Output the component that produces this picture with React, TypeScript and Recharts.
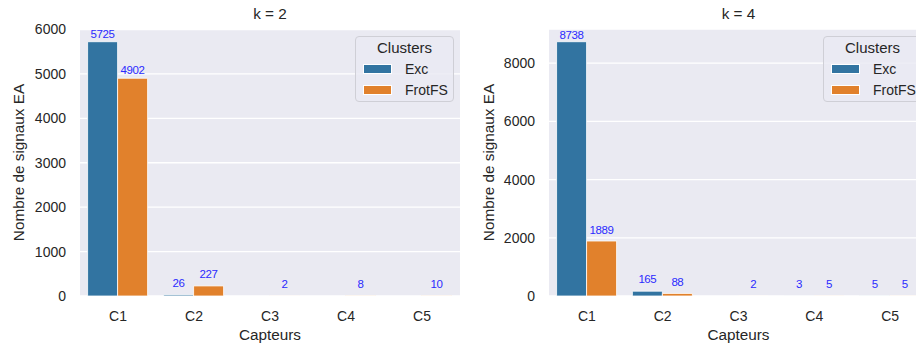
import { BarChart, Bar, XAxis, YAxis, CartesianGrid, LabelList } from 'recharts';

const categories = ['C1', 'C2', 'C3', 'C4', 'C5'];

// k = 2
const k2Exc = [5725, 26, null, null, null];
const k2FrotFS = [4902, 227, 2, 8, 10];
const k2Ticks = [0, 1000, 2000, 3000, 4000, 5000, 6000];
const k2Max = 6011;

// k = 4
const k4Exc = [8738, 165, null, 3, 5];
const k4FrotFS = [1889, 88, 2, 5, 5];
const k4Ticks = [0, 2000, 4000, 6000, 8000];
const k4Max = 9175;

const seriesNames = ['Exc', 'FrotFS'];
const colors = ['#3274a1', '#e1812c'];

const FONT = '"Liberation Sans", Arial, sans-serif';
const TEXT = '#262626';

const buildRows = (exc: (number | null)[], frot: (number | null)[]) =>
  categories.map((c, i) => ({ name: c, Exc: exc[i], FrotFS: frot[i] }));

function makeValueLabel(max: number) {
  return (props: any) => {
    const { x, y, width, value } = props;
    if (value === null || value === undefined) return null;
    const offset = 12 - 5 * (value / max);
    return (
      <text
        x={x + width / 2}
        y={y - offset}
        dy="0.35em"
        textAnchor="middle"
        fill="#2a2aff"
        fontSize={11.5}
        fontFamily={FONT}
        letterSpacing={-0.4}
      >
        {value}
      </text>
    );
  };
}

function Legend({ left }: { left: number }) {
  return (
    <div
      style={{
        position: 'absolute',
        left,
        top: 36,
        width: 97,
        height: 64,
        border: '1px solid #cfcfd6',
        borderRadius: 4,
        background: 'rgba(234,234,242,0.8)',
        fontFamily: FONT,
        color: TEXT,
      }}
    >
      <div style={{ position: 'absolute', top: 2, width: '100%', textAlign: 'center', fontSize: 15 }}>Clusters</div>
      {seriesNames.map((n, i) => (
        <div key={n} style={{ position: 'absolute', top: 24 + i * 21, left: 7, height: 16, display: 'flex', alignItems: 'center' }}>
          <div style={{ width: 29, height: 10, background: colors[i], border: '1px solid #fff', boxSizing: 'border-box' }} />
          <span style={{ marginLeft: 13, fontSize: 14 }}>{n}</span>
        </div>
      ))}
    </div>
  );
}

interface PanelProps {
  left: number;
  width: number;
  title: string;
  exc: (number | null)[];
  frot: (number | null)[];
  ticks: number[];
  max: number;
  yAxisWidth: number;
  legendLeft: number;
}

function Panel({ left, width, title, exc, frot, ticks, max, yAxisWidth, legendLeft }: PanelProps) {
  const data = buildRows(exc, frot);
  const valueLabel = makeValueLabel(max);
  return (
    <div style={{ position: 'absolute', left, top: 0, width, height: 345 }}>
      <div
        style={{
          position: 'absolute',
          top: 5,
          left: yAxisWidth,
          width: width - yAxisWidth,
          textAlign: 'center',
          fontFamily: FONT,
          fontSize: 15.3,
          color: TEXT,
        }}
      >
        {title}
      </div>
      <BarChart
        width={width}
        height={345}
        data={data}
        margin={{ top: 29, right: 0, bottom: 0, left: 0 }}
        barCategoryGap="10%"
        barGap={0}
      >
        <CartesianGrid vertical={false} stroke="#ffffff" strokeWidth={1.3} fill="#eaeaf2" />
        <XAxis
          dataKey="name"
          axisLine={false}
          tickLine={false}
          tickSize={0}
          tickMargin={15}
          tick={{ fill: TEXT, fontSize: 14, fontFamily: FONT }}
          height={49}
          label={(p: any) => (
            <text
              x={p.viewBox.x + p.viewBox.width / 2}
              y={p.viewBox.y + 39}
              dy="0.35em"
              textAnchor="middle"
              fill={TEXT}
              fontSize={15.3}
              fontFamily={FONT}
            >
              Capteurs
            </text>
          )}
        />
        <YAxis
          domain={[0, max]}
          ticks={ticks}
          axisLine={false}
          tickLine={false}
          tickSize={0}
          tickMargin={14}
          width={yAxisWidth}
          tick={{ fill: TEXT, fontSize: 14, fontFamily: FONT }}
          label={(p: any) => {
            const cx = p.viewBox.x + 19;
            const cy = p.viewBox.y + p.viewBox.height / 2;
            return (
              <text
                x={cx}
                y={cy}
                dy="0.35em"
                textAnchor="middle"
                transform={`rotate(-90 ${cx} ${cy})`}
                fill={TEXT}
                fontSize={15.3}
                fontFamily={FONT}
              >
                Nombre de signaux EA
              </text>
            );
          }}
        />
        <Bar dataKey="Exc" fill={colors[0]} stroke="#ffffff" strokeWidth={0.8} isAnimationActive={false}>
          <LabelList dataKey="Exc" content={valueLabel} />
        </Bar>
        <Bar dataKey="FrotFS" fill={colors[1]} stroke="#ffffff" strokeWidth={0.8} isAnimationActive={false}>
          <LabelList dataKey="FrotFS" content={valueLabel} />
        </Bar>
      </BarChart>
      <Legend left={legendLeft} />
    </div>
  );
}

export default function App() {
  return (
    <div
      style={{
        position: 'absolute',
        left: 0,
        top: 0,
        width: 916,
        height: 345,
        overflow: 'hidden',
        background: '#ffffff',
      }}
    >
      <Panel
        left={0}
        width={460}
        title="k = 2"
        exc={k2Exc}
        frot={k2FrotFS}
        ticks={k2Ticks}
        max={k2Max}
        yAxisWidth={80}
        legendLeft={355}
      />
      <Panel
        left={470}
        width={458}
        title="k = 4"
        exc={k4Exc}
        frot={k4FrotFS}
        ticks={k4Ticks}
        max={k4Max}
        yAxisWidth={79}
        legendLeft={353}
      />
    </div>
  );
}
